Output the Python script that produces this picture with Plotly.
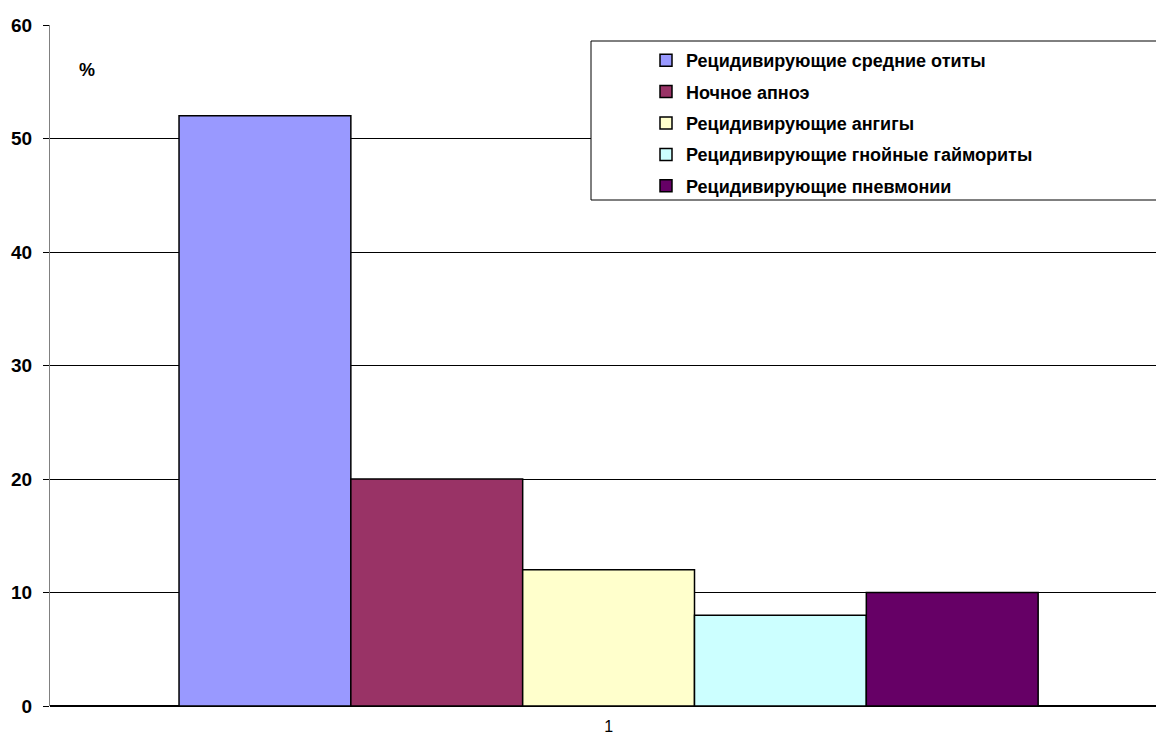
import plotly.graph_objects as go

# Categories and series values
categories = ["1"]
series_names = [
    "Рецидивирующие средние отиты",
    "Ночное апноэ",
    "Рецидивирующие ангигы",
    "Рецидивирующие гнойные гаймориты",
    "Рецидивирующие пневмонии",
]
series_values = [[52], [20], [12], [8], [10]]
series_colors = ["#9999FF", "#993366", "#FFFFCC", "#CCFFFF", "#660066"]
y_ticks = [0, 10, 20, 30, 40, 50, 60]

W, H = 1156, 736
L, R, T, B = 50, 0, 25, 30
pw, ph = W - L - R, H - T - B


def px_x(p):
    return (p - L) / pw


def px_y(p):
    return (H - B - p) / ph


fig = go.Figure()
for i, (name, vals, col) in enumerate(zip(series_names, series_values, series_colors)):
    fig.add_trace(go.Bar(
        x=categories, y=vals, name=name,
        marker=dict(color=col, line=dict(color="black", width=1.5)),
        legendgroup=f"g{i}",
    ))

font_main = "Liberation Sans, Arial, sans-serif"

fig.update_layout(
    width=W, height=H,
    margin=dict(l=L, r=R, t=T, b=B, pad=0),
    paper_bgcolor="white", plot_bgcolor="white",
    barmode="group", bargap=0.231, bargroupgap=0,
    showlegend=True,
    legend=dict(
        x=px_x(646), y=px_y(42), xanchor="left", yanchor="top",
        bgcolor="rgba(0,0,0,0)", borderwidth=0,
        font=dict(family=font_main, size=18, color="black", weight="bold"),
        traceorder="grouped", tracegroupgap=5, itemwidth=30,
    ),
    xaxis=dict(
        type="category", range=[-0.5, 0.49],
        showgrid=False, showline=False, ticks="",
        tickfont=dict(family=font_main, size=16, color="black"),
        ticklabelstandoff=9, automargin=False,
        fixedrange=True,
    ),
    yaxis=dict(
        range=[0, 60], tickvals=y_ticks,
        showgrid=True, gridcolor="black", gridwidth=1,
        showline=True, linecolor="#808080", linewidth=1,
        ticks="outside", ticklen=6, tickcolor="black",
        zeroline=True, zerolinecolor="black", zerolinewidth=1.5,
        tickfont=dict(family=font_main, size=19, color="black", weight="bold"),
        ticklabelstandoff=7, automargin=False,
    ),
    shapes=[dict(
        type="rect", xref="paper", yref="paper",
        x0=px_x(591), x1=px_x(1165), y0=px_y(200), y1=px_y(41),
        line=dict(color="black", width=1), fillcolor="white", layer="above",
    )],
    annotations=[dict(
        text="%", xref="paper", yref="paper", x=px_x(87), y=px_y(70),
        xanchor="center", yanchor="middle", showarrow=False,
        font=dict(family=font_main, size=18, color="black", weight="bold"),
    )],
)

fig.write_html("out.html")
